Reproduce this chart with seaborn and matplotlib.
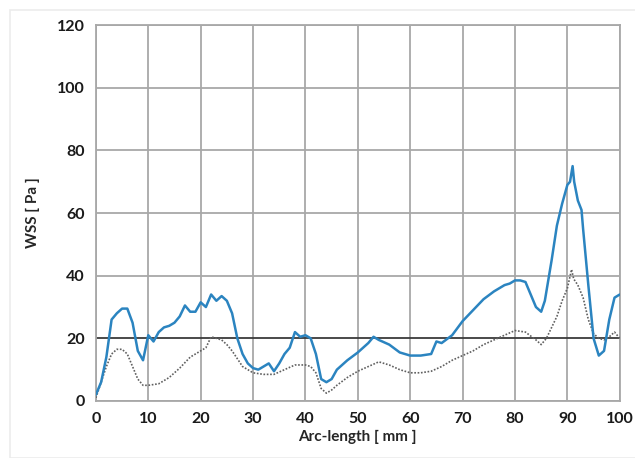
import matplotlib
matplotlib.use("Agg")
import matplotlib.pyplot as plt
from matplotlib.patches import Rectangle
import numpy as np
import pandas as pd
import seaborn as sns

# Wall shear stress along the vessel arc-length
arc_blue = [0, 1, 2, 3, 4, 5, 6, 7, 8, 9, 10, 11, 12, 13, 14, 15, 16, 17, 18, 19,
            20, 21, 22, 23, 24, 25, 26, 27, 28, 29, 30, 31, 32, 33, 34, 35, 36, 37,
            38, 39, 40, 41, 42, 43, 44, 45, 46, 48, 50, 52, 53, 54, 56, 58, 60, 62,
            64, 65, 66, 68, 70, 72, 74, 76, 78, 79, 80, 81, 82, 83, 84, 85, 85.7, 87,
            88, 89, 90, 90.5, 91, 91.3, 92, 92.7, 93, 94, 95, 96, 97, 98, 99, 100]
wss_blue = [2, 6, 14, 26, 28, 29.5, 29.5, 25, 16, 13, 21, 19, 22, 23.5, 24, 25, 27,
            30.5, 28.5, 28.5, 31.5, 30, 34, 32, 33.5, 32, 28, 20, 15, 12, 10.5, 10,
            11, 12, 9.5, 12, 15, 17, 22, 20.5, 21, 20, 15, 7, 6, 7, 10, 13, 15.5,
            18.5, 20.5, 19.5, 18, 15.5, 14.5, 14.5, 15, 19, 18.5, 21, 25.5, 29, 32.5,
            35, 37, 37.5, 38.5, 38.5, 38, 34, 30, 28.5, 32, 45, 56, 63, 69, 70, 75,
            70, 64, 61, 55, 37, 20, 14.5, 16, 26, 33, 34]

arc_gray = [0, 1, 2, 3, 4, 5, 6, 7, 8, 9, 10, 12, 14, 16, 18, 20, 21, 22, 23, 24,
            25, 26, 28, 30, 32, 34, 36, 38, 40, 41, 42, 43, 44, 45, 46, 48, 50, 52,
            54, 56, 58, 60, 62, 64, 66, 68, 70, 72, 74, 76, 78, 80, 82, 84, 85, 86,
            88, 89, 90, 90.8, 91.2, 92, 93, 94, 95, 96, 97, 98, 99, 100]
wss_gray = [1, 6, 11, 15, 16.5, 16.5, 15, 11, 7, 5, 5, 5.5, 7.5, 10.5, 14, 16, 17,
            20.5, 20, 19.5, 18, 16, 11, 9, 8.5, 8.5, 10, 11.5, 11.5, 11, 9, 4, 2.5,
            3.5, 5, 7.5, 9.5, 11, 12.5, 11.5, 10, 9, 9, 9.5, 11, 13, 14.5, 16, 18,
            19.5, 21, 22.5, 22, 19.5, 18, 20, 27, 32, 36, 42, 39, 37, 33, 26, 21.5,
            20, 19.5, 20.5, 22, 20]

x_ticks = [0, 10, 20, 30, 40, 50, 60, 70, 80, 90, 100]
y_ticks = [0, 20, 40, 60, 80, 100, 120]

sns.set_style("white")
plt.rcParams["font.family"] = ["Lato", "DejaVu Sans"]

fig = plt.figure(figsize=(6.35, 4.58), dpi=100)
ax = fig.add_axes([0.151, 0.1245, 0.825, 0.8205])

# faint frame around the chart
fig.patches.append(Rectangle((10 / 635, 0.0), 1.0, 1 - 10 / 458, transform=fig.transFigure,
                             fill=False, edgecolor="#ECECEC", linewidth=1.2, zorder=0))

df_blue = pd.DataFrame({"arc": arc_blue, "wss": wss_blue})
df_gray = pd.DataFrame({"arc": arc_gray, "wss": wss_gray})

sns.lineplot(data=df_gray, x="arc", y="wss", ax=ax, color="#606060",
             linestyle=(0, (1, 1)), linewidth=1.2, zorder=3)
sns.lineplot(data=df_blue, x="arc", y="wss", ax=ax, color="#2B84C0",
             linewidth=1.8, zorder=4)

ax.set_xlim(0, 100)
ax.set_ylim(0, 120)
ax.set_xticks(x_ticks)
ax.set_yticks(y_ticks)

for v in x_ticks:
    ax.axvline(v, color="#A8A8A8", linewidth=1.3, zorder=1)
for v in y_ticks:
    ax.axhline(v, color="#3A3A3A" if v == 20 else "#A8A8A8", linewidth=1.3, zorder=1)

for s in ax.spines.values():
    s.set_color("#A8A8A8")
    s.set_linewidth(1.3)

ax.tick_params(axis="both", length=0, labelsize=11.5, pad=8, colors="#1A1A1A")
for lab in ax.get_xticklabels() + ax.get_yticklabels():
    lab.set_fontweight("bold")

ax.set_xlabel("Arc-length [ mm ]", fontsize=11, fontweight="bold", labelpad=3)
ax.set_ylabel("WSS [ Pa ]", fontsize=11, fontweight="bold", labelpad=12)

fig.savefig("out.png", dpi=100)
